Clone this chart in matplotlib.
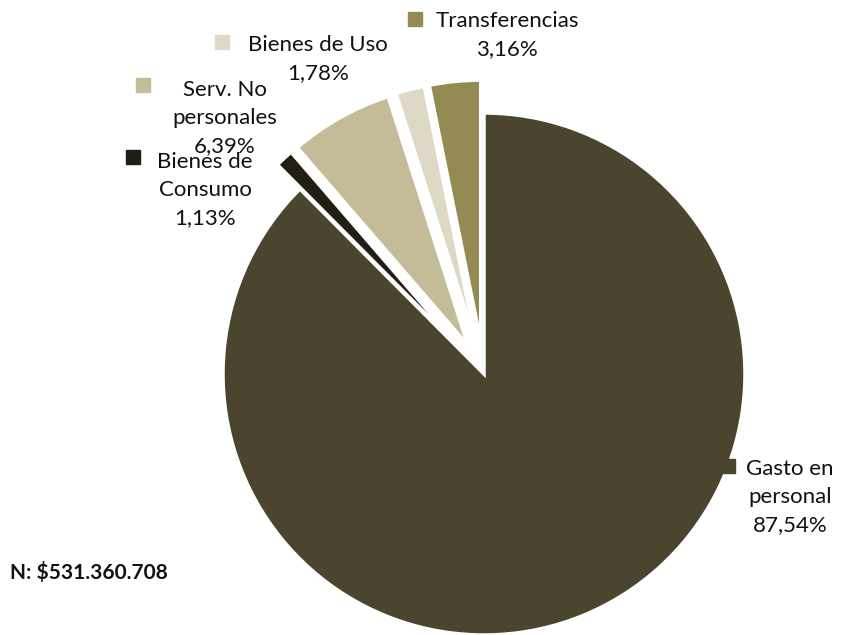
import matplotlib
matplotlib.use("Agg")
import matplotlib.pyplot as plt

categories = ["Gasto en personal", "Bienes de Consumo", "Serv. No personales",
              "Bienes de Uso", "Transferencias"]
shares = [87.54, 1.13, 6.39, 1.78, 3.16]
label_text = ["Gasto en\npersonal", "Bienes de\nConsumo", "Serv. No\npersonales",
              "Bienes de Uso", "Transferencias"]
total_text = "N: $531.360.708"

colors = ["#4B4530", "#211E14", "#C4BC98", "#DDD9C4", "#948A54"]

plt.rcParams["font.family"] = ["Lato", "DejaVu Sans"]

W, H = 841, 635
fig = plt.figure(figsize=(W / 100, H / 100), dpi=100)
ax = fig.add_axes([0, 0, 1, 1])

cx, cy, r = 484, H - 374, 261
ax.pie(
    shares,
    colors=colors,
    startangle=90,
    counterclock=False,
    center=(cx, cy),
    radius=r,
    explode=[0, 33, 33, 33, 33],
    wedgeprops={"edgecolor": "white", "linewidth": 2.5},
)
ax.set_xlim(0, W)
ax.set_ylim(0, H)
ax.set_aspect("auto")
ax.axis("off")

# label placement (pixel coords from top): marker x, marker y, text x, text y
spots = [
    (728, 466, 790, 497),
    (133, 157, 205, 190),
    (143, 85, 225, 118),
    (222, 42, 318, 59),
    (415, 19, 507, 35),
]
for (mx, my, tx, ty), name, val, col in zip(spots, label_text, shares, colors):
    ax.plot(mx, H - my, marker="s", markersize=10, color=col, linestyle="none")
    pct = f"{val:.2f}".replace(".", ",") + "%"
    ax.text(tx, H - ty, name + "\n" + pct, ha="center", va="center",
            fontsize=16, linespacing=1.52, color="#111111")

ax.text(10, H - 572, total_text, ha="left", va="center", fontsize=15,
        fontweight="bold", color="#111111")

fig.savefig("out.png", dpi=100)
